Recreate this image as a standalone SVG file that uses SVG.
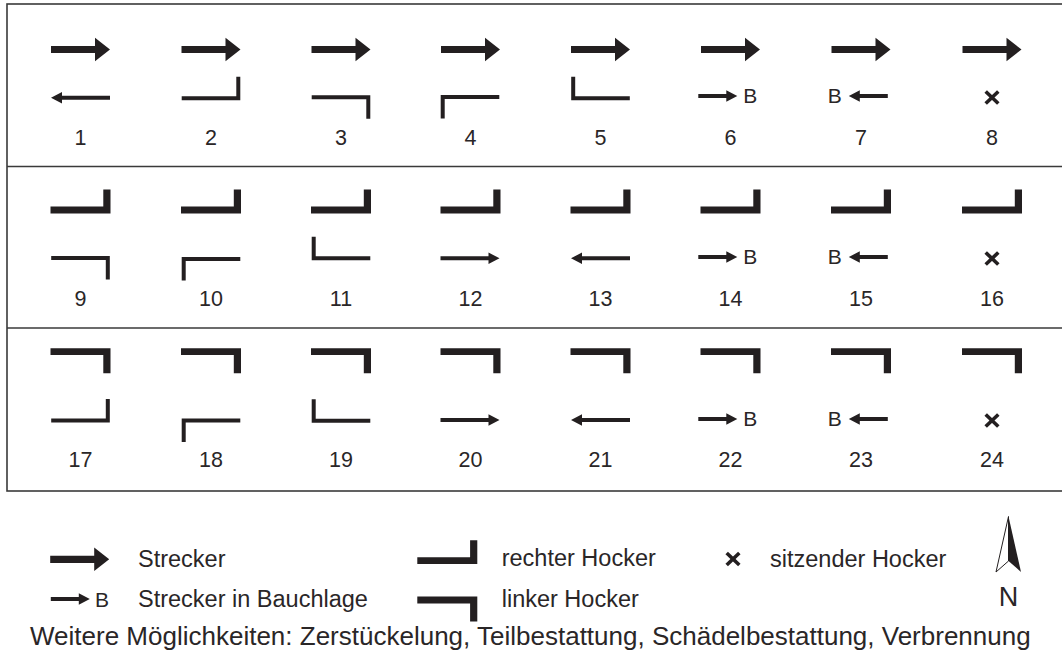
<svg xmlns="http://www.w3.org/2000/svg" xmlns:xlink="http://www.w3.org/1999/xlink" width="1062" height="653" viewBox="0 0 1062 653">
  <style>
    .ink { fill: #231f20; }
    .num { font-family: "Liberation Sans", Arial, sans-serif; font-size: 21.5px; fill: #2a2627; text-anchor: middle; }
    .b { font-family: "Liberation Sans", Arial, sans-serif; font-size: 21px; fill: #2a2627; }
    .leg { font-family: "Liberation Sans", Arial, sans-serif; font-size: 23.5px; fill: #2a2627; }
    .note { font-family: "Liberation Sans", Arial, sans-serif; font-size: 26px; fill: #2a2627; }
    .frame { fill: none; stroke: #3a3a3a; stroke-width: 1.6; }
    .x { stroke: #231f20; stroke-width: 3.6; fill: none; }
  </style>
  <defs>
    <!-- Strecker: bold arrow pointing right -->
    <path id="bigArrow" class="ink" d="M-29.5,-3.6 H14.5 V-11.7 L29.5,0 L14.5,11.7 V3.6 H-29.5 Z"/>
    <!-- thin arrow, full cell width -->
    <path id="arrow" class="ink" d="M-29.5,-2 H18.5 V-5.8 L29.5,0 L18.5,5.8 V2 H-29.5 Z"/>
    <!-- short arrow used with the B (Bauchlage) mark -->
    <path id="arrowB" class="ink" d="M-19.5,-2 H8.5 V-5.7 L19.5,0 L8.5,5.7 V2 H-19.5 Z"/>
    <!-- thin hooks: bar centred on origin, hook up/down at right/left -->
    <path id="hookRU" class="ink" d="M-29.3,-2 H25.3 V-21.5 H29.3 V2 H-29.3 Z"/>
    <path id="hookRD" class="ink" d="M-29.3,-2 H29.3 V21.5 H25.3 V2 H-29.3 Z"/>
    <path id="hookLD" class="ink" d="M-29.3,-2 H29.3 V2 H-25.3 V21.5 H-29.3 Z"/>
    <path id="hookLU" class="ink" d="M-29.3,-21.5 H-25.3 V-2 H29.3 V2 H-29.3 Z"/>
    <!-- bold hooks: rechter Hocker / linker Hocker -->
    <path id="rechter" class="ink" d="M-30,-3.4 H22.8 V-20.5 H30 V3.4 H-30 Z"/>
    <path id="linker" class="ink" d="M-30,-3.4 H30 V21.5 H22.8 V3.4 H-30 Z"/>
    <!-- sitzender Hocker -->
    <g id="cross">
      <line class="x" x1="-6.3" y1="-6" x2="6.3" y2="6"/>
      <line class="x" x1="-6.3" y1="6" x2="6.3" y2="-6"/>
    </g>
  </defs>

  <rect id="bg" x="0" y="0" width="1062" height="653" fill="#ffffff"/>

  <!-- table frame and row separators -->
  <g id="frame">
    <rect class="frame" x="7" y="4" width="1060" height="487"/>
    <line class="frame" x1="7" y1="166.5" x2="1062" y2="166.5"/>
    <line class="frame" x1="7" y1="328" x2="1062" y2="328"/>
  </g>

  <!-- row 1 -->
  <g id="cell1"><use href="#bigArrow" x="80.5" y="49.5"/><use href="#arrow" transform="translate(80.5,97.7) scale(-1,1)"/><text class="num" x="80.5" y="145">1</text></g>
  <g id="cell2"><use href="#bigArrow" x="211" y="49.5"/><use href="#hookRU" x="211" y="98.3"/><text class="num" x="211" y="145">2</text></g>
  <g id="cell3"><use href="#bigArrow" x="341" y="49.5"/><use href="#hookRD" x="341" y="97.2"/><text class="num" x="341" y="145">3</text></g>
  <g id="cell4"><use href="#bigArrow" x="470.5" y="49.5"/><use href="#hookLD" x="470" y="97"/><text class="num" x="470.5" y="145">4</text></g>
  <g id="cell5"><use href="#bigArrow" x="600.5" y="49.5"/><use href="#hookLU" x="600.5" y="98.3"/><text class="num" x="600.5" y="145">5</text></g>
  <g id="cell6"><use href="#bigArrow" x="730.5" y="49.5"/><use href="#arrowB" x="717.8" y="96"/><text class="b" x="743.3" y="103.3">B</text><text class="num" x="730.5" y="145">6</text></g>
  <g id="cell7"><use href="#bigArrow" x="861" y="49.5"/><text class="b" x="827.8" y="103.3">B</text><use href="#arrowB" transform="translate(868.3,96) scale(-1,1)"/><text class="num" x="861" y="145">7</text></g>
  <g id="cell8"><use href="#bigArrow" x="992" y="49.5"/><use href="#cross" x="992" y="97.5"/><text class="num" x="992" y="145">8</text></g>

  <!-- row 2 -->
  <g id="cell9"><use href="#rechter" x="80.5" y="210"/><use href="#hookRD" x="80.5" y="258"/><text class="num" x="80.5" y="306">9</text></g>
  <g id="cell10"><use href="#rechter" x="211" y="210"/><use href="#hookLD" x="211" y="259"/><text class="num" x="211" y="306">10</text></g>
  <g id="cell11"><use href="#rechter" x="341" y="210"/><use href="#hookLU" x="341" y="258.3"/><text class="num" x="341" y="306">11</text></g>
  <g id="cell12"><use href="#rechter" x="470.5" y="210"/><use href="#arrow" x="470" y="258.3"/><text class="num" x="470.5" y="306">12</text></g>
  <g id="cell13"><use href="#rechter" x="600.5" y="210"/><use href="#arrow" transform="translate(600.5,258.3) scale(-1,1)"/><text class="num" x="600.5" y="306">13</text></g>
  <g id="cell14"><use href="#rechter" x="730.5" y="210"/><use href="#arrowB" x="717.8" y="257"/><text class="b" x="743.3" y="264.3">B</text><text class="num" x="730.5" y="306">14</text></g>
  <g id="cell15"><use href="#rechter" x="861" y="210"/><text class="b" x="827.8" y="264.3">B</text><use href="#arrowB" transform="translate(868.3,257) scale(-1,1)"/><text class="num" x="861" y="306">15</text></g>
  <g id="cell16"><use href="#rechter" x="992" y="210"/><use href="#cross" x="992" y="258.5"/><text class="num" x="992" y="306">16</text></g>

  <!-- row 3 -->
  <g id="cell17"><use href="#linker" x="80.5" y="351.7"/><use href="#hookRU" x="80.5" y="420.5"/><text class="num" x="80.5" y="467">17</text></g>
  <g id="cell18"><use href="#linker" x="211" y="351.7"/><use href="#hookLD" x="211" y="420.5"/><text class="num" x="211" y="467">18</text></g>
  <g id="cell19"><use href="#linker" x="341" y="351.7"/><use href="#hookLU" x="341" y="420.8"/><text class="num" x="341" y="467">19</text></g>
  <g id="cell20"><use href="#linker" x="470.5" y="351.7"/><use href="#arrow" x="470" y="420"/><text class="num" x="470.5" y="467">20</text></g>
  <g id="cell21"><use href="#linker" x="600.5" y="351.7"/><use href="#arrow" transform="translate(600.5,420) scale(-1,1)"/><text class="num" x="600.5" y="467">21</text></g>
  <g id="cell22"><use href="#linker" x="730.5" y="351.7"/><use href="#arrowB" x="717.8" y="419"/><text class="b" x="743.3" y="426.3">B</text><text class="num" x="730.5" y="467">22</text></g>
  <g id="cell23"><use href="#linker" x="861" y="351.7"/><text class="b" x="827.8" y="426.3">B</text><use href="#arrowB" transform="translate(868.3,419) scale(-1,1)"/><text class="num" x="861" y="467">23</text></g>
  <g id="cell24"><use href="#linker" x="992" y="351.7"/><use href="#cross" x="992" y="420.5"/><text class="num" x="992" y="467">24</text></g>

  <!-- legend -->
  <g id="legend-strecker"><use href="#bigArrow" x="79.7" y="559.3"/><text class="leg" x="138" y="567">Strecker</text></g>
  <g id="legend-bauchlage"><use href="#arrowB" x="70.3" y="599"/><text class="b" x="95" y="607">B</text><text class="leg" x="138" y="606.5">Strecker in Bauchlage</text></g>
  <g id="legend-rechter"><use href="#rechter" x="447.3" y="560.7"/><text class="leg" x="501.7" y="566">rechter Hocker</text></g>
  <g id="legend-linker"><use href="#linker" x="447.3" y="600"/><text class="leg" x="501.7" y="606.5">linker Hocker</text></g>
  <g id="legend-sitzend"><use href="#cross" x="733" y="559"/><text class="leg" x="770" y="567">sitzender Hocker</text></g>
  <g id="north">
    <path d="M1008.5,516.5 L996,572 L1008.5,561 Z" fill="#ffffff" stroke="#231f20" stroke-width="1" stroke-linejoin="miter"/>
    <path class="ink" d="M1008.5,516.5 L1021,572 L1008.5,561 Z"/>
    <text x="1008.5" y="606" font-family="Liberation Sans, Arial, sans-serif" font-size="27" fill="#2a2627" text-anchor="middle">N</text>
  </g>
  <text id="note" class="note" x="30" y="645">Weitere Möglichkeiten: Zerstückelung, Teilbestattung, Schädelbestattung, Verbrennung</text>
</svg>
